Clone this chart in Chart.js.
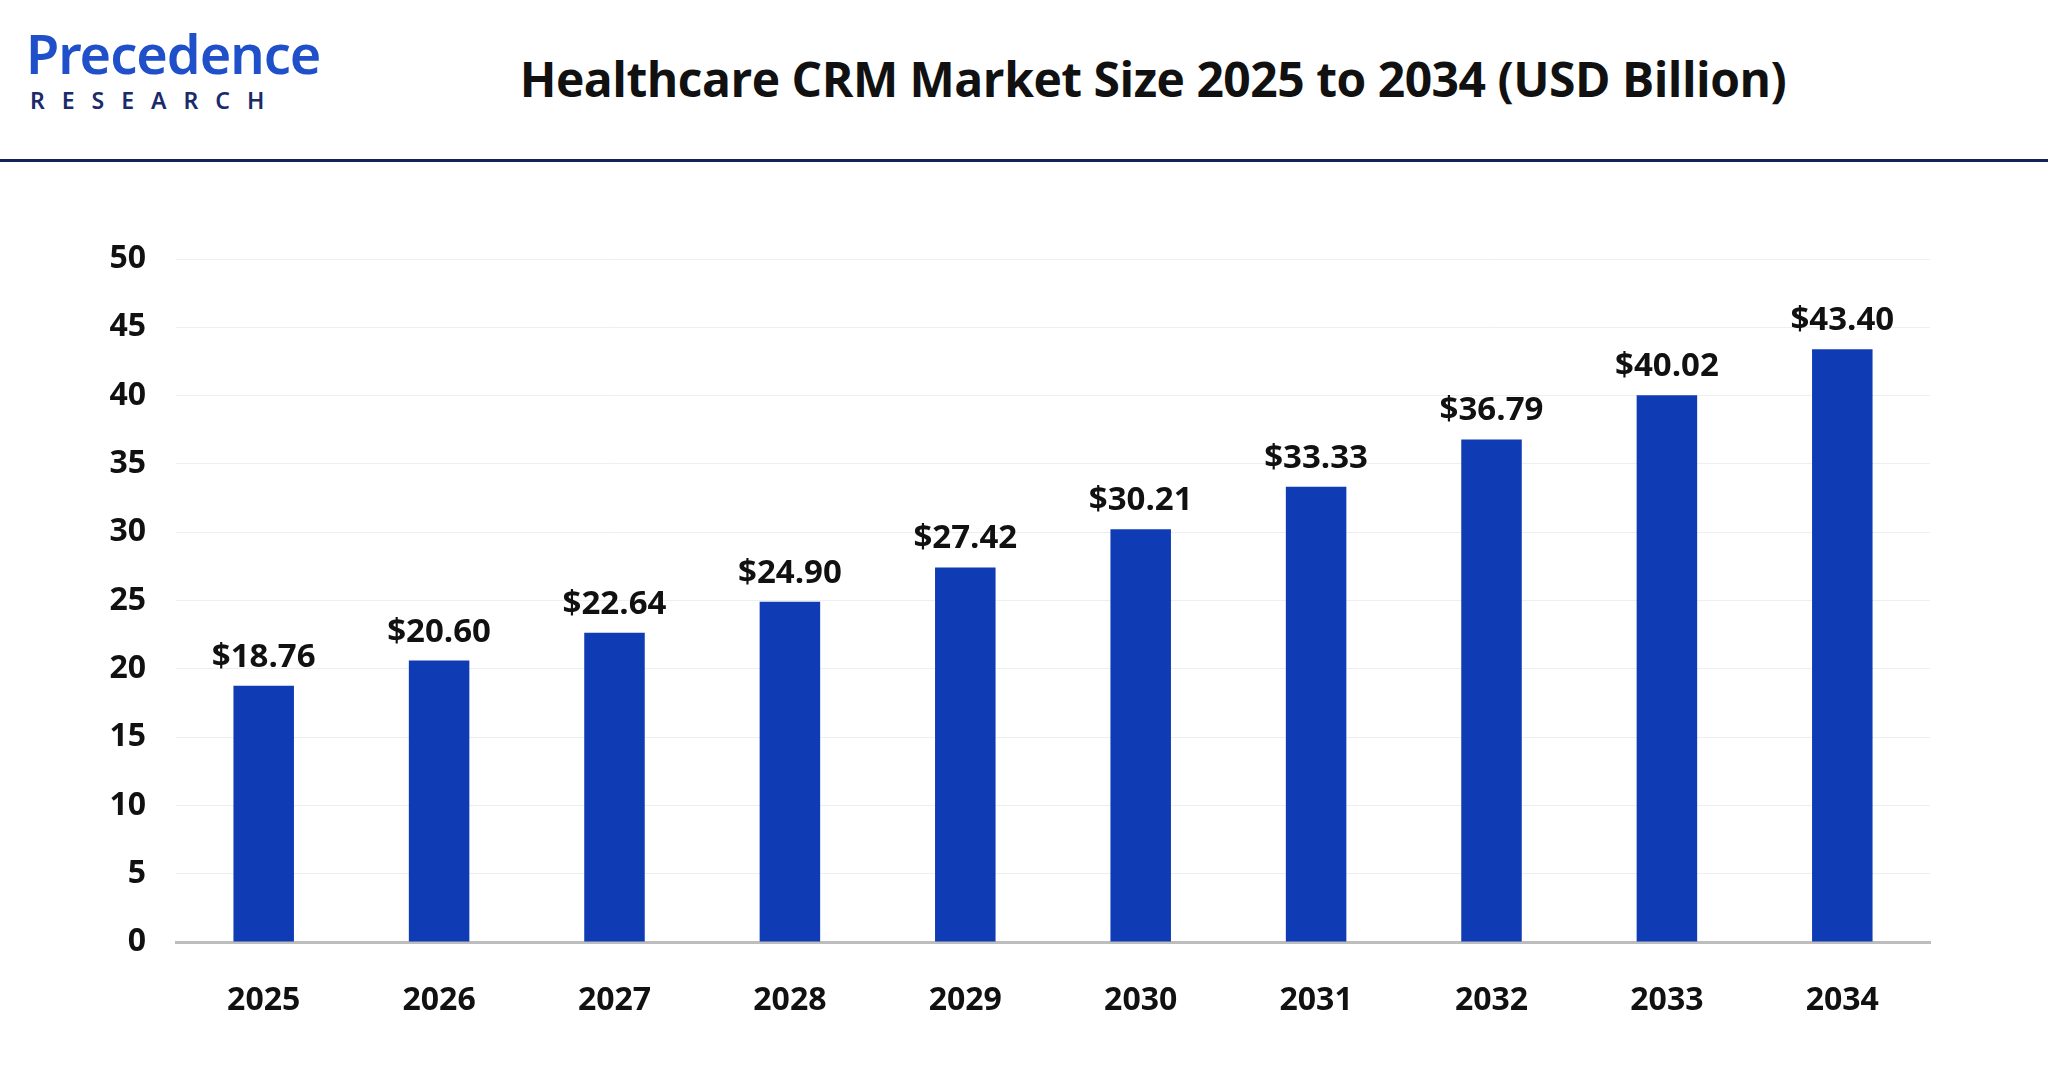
<!DOCTYPE html>
<html>
<head>
<meta charset="utf-8">
<script src="https://cdn.jsdelivr.net/npm/chart.js@4"></script>
<style>
  body { margin: 0; background: #fff; font-family: "Open Sans", sans-serif; }
  #wrap { position: relative; width: 2048px; height: 1068px; overflow: hidden; }
  #logo { position: absolute; left: 26px; top: 26px; }
  #logo .p { font-family: "Noto Sans", sans-serif; font-size: 54px; font-weight: 600; color: #1f4fc9; line-height: 54px; letter-spacing: -1px; }
  #logo .r { font-family: "Noto Sans", sans-serif; font-size: 23px; font-weight: 600; color: #1a2a6c; letter-spacing: 17px; margin-top: 4px; margin-left: 4px; }
  #title { position: absolute; left: 0; width: 2048px; top: 46px; padding-left: 258px; box-sizing: border-box; text-align: center; font-size: 48px; font-weight: 700; color: #111; letter-spacing: -0.5px; }
  #rule { position: absolute; left: 0; top: 159px; width: 2048px; height: 3px; background: #14215a; }
  canvas { position: absolute; left: 0; top: 0; }
</style>
</head>
<body>
<div id="wrap">
  <div id="logo"><div class="p">Precedence</div><div class="r">RESEARCH</div></div>
  <div id="title">Healthcare CRM Market Size 2025 to 2034 (USD Billion)</div>
  <div id="rule"></div>
  <canvas id="myChart" width="2048" height="1068"></canvas>
</div>
<script>
const years = ['2025', '2026', '2027', '2028', '2029', '2030', '2031', '2032', '2033', '2034'];
const marketSize = [18.76, 20.60, 22.64, 24.90, 27.42, 30.21, 33.33, 36.79, 40.02, 43.40];

const valueLabels = {
    id: 'valueLabels',
    afterDatasetsDraw(chart) {
        const ctx = chart.ctx;
        const meta = chart.getDatasetMeta(0);
        ctx.save();
        ctx.font = 'bold 33px "Open Sans"';
        ctx.fillStyle = '#111';
        ctx.textAlign = 'center';
        ctx.textBaseline = 'bottom';
        meta.data.forEach((bar, i) => {
            ctx.fillText('$' + marketSize[i].toFixed(2), bar.x, bar.y - 12);
        });
        ctx.restore();
    }
};

const ctx = document.getElementById('myChart').getContext('2d');
let chart = new Chart(ctx, {
    type: 'bar',
    data: {
        labels: years,
        datasets: [{
            data: marketSize,
            backgroundColor: '#0f3bb5',
            barPercentage: 0.345,
            categoryPercentage: 1
        }]
    },
    options: {
        responsive: false,
        animation: false,
        layout: { padding: { top: 259, right: 118, bottom: 36, left: 0 } },
        plugins: { legend: { display: false }, tooltip: { enabled: false } },
        scales: {
            x: {
                grid: { display: false },
                border: { color: '#bdbdbd', width: 3 },
                ticks: { color: '#111', font: { size: 32, weight: 'bold', family: 'Open Sans' }, padding: 32 },
                afterFit(s) { s.height = 90; }
            },
            y: {
                min: 0, max: 50,
                ticks: { stepSize: 5, color: '#111', font: { size: 32, weight: 'bold', family: 'Open Sans' }, padding: 30 },
                grid: { color: '#eeeeee', lineWidth: 1, drawTicks: false },
                border: { display: false },
                afterFit(s) { s.width = 176; }
            }
        }
    },
    plugins: [valueLabels]
});
</script>
</body>
</html>
